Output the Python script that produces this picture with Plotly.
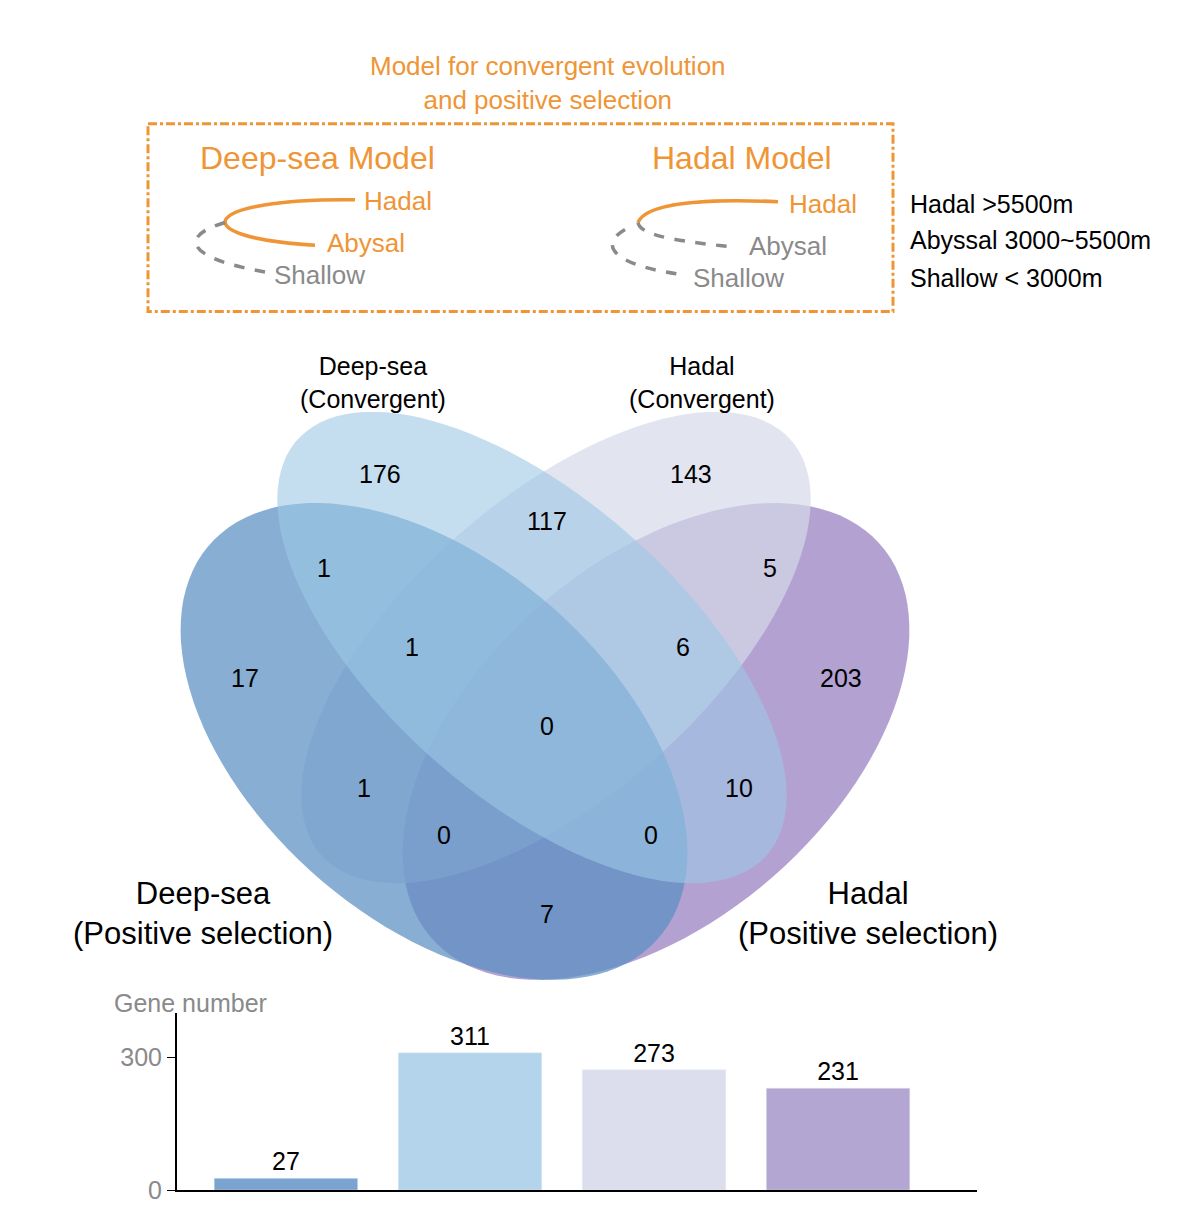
import numpy as np
import plotly.graph_objects as go

venn_sets = ["Deep-sea (Convergent)", "Hadal (Convergent)", "Deep-sea (Positive selection)", "Hadal (Positive selection)"]
venn_counts = [176, 143, 117, 1, 5, 17, 1, 6, 203, 0, 1, 10, 0, 0, 7]
venn_pos = [(380,479),(691,479),(547,527),(324,575),(770,575),(245,686),(412,654),(683,654),
            (841,686),(547,734),(364,797),(739,797),(444,845),(651,845),(547,925)]
bar_labels = ["Deep-sea (Positive selection)", "Deep-sea (Convergent)", "Hadal (Convergent)", "Hadal (Positive selection)"]
bar_values = [27, 311, 273, 231]
bar_colors = ["#7ba3cf", "#b3d4ea", "#dcdeee", "#b3a6d2"]

FONT = "Liberation Sans, Arial, sans-serif"
ORANGE = "#ef9535"
GRAY = "#8a8a8a"
OFF = 8  # page body margin

fig = go.Figure()

def ellipse(cx, cy, a, b, th):
    t = np.linspace(0, 2*np.pi, 120)
    th = np.radians(th)
    x = cx + a*np.cos(t)*np.cos(th) - b*np.sin(t)*np.sin(th)
    y = cy + a*np.cos(t)*np.sin(th) + b*np.sin(t)*np.cos(th)
    return "M " + " L ".join(f"{xi:.1f},{yi:.1f}" for xi, yi in zip(x, y)) + " Z"

ells = [((656,750,300,180,-42), "#a08ac6", 0.8),
        ((556,655,315,150,-42), "#d5d8ea", 0.7),
        ((434,750,300,180,42), "#5a8fc4", 0.72),
        ((532,655,315,150,42), "#9dc8e4", 0.6)]
shapes = []
for (p, c, o) in ells:
    shapes.append(dict(type="path", path=ellipse(*p), fillcolor=c, opacity=o,
                       line=dict(width=0), xref="x", yref="y", layer="below"))

shapes.append(dict(type="rect", x0=148, y0=125, x1=893, y1=315, xref="x", yref="y",
                   line=dict(color=ORANGE, width=3, dash="dashdot")))
shapes.append(dict(type="path", path="M 355,202 C 200,200 180,240 315,248", xref="x", yref="y",
                   line=dict(color=ORANGE, width=3.5)))
shapes.append(dict(type="path", path="M 225,225 C 175,240 190,262 265,275", xref="x", yref="y",
                   line=dict(color=GRAY, width=3.5, dash="dash")))
shapes.append(dict(type="path", path="M 778,204 C 690,200 645,208 638,225", xref="x", yref="y",
                   line=dict(color=ORANGE, width=3.5)))
shapes.append(dict(type="path", path="M 638,225 C 640,240 690,245 735,250", xref="x", yref="y",
                   line=dict(color=GRAY, width=3.5, dash="dash")))
shapes.append(dict(type="path", path="M 625,232 C 595,250 620,270 685,278", xref="x", yref="y",
                   line=dict(color=GRAY, width=3.5, dash="dash")))

ann = []
def T(x, y, s, size=25, color="black", xanchor="center"):
    ann.append(dict(x=x, y=y, text=s, showarrow=False, xref="x", yref="y", xanchor=xanchor,
                    yanchor="middle", font=dict(family=FONT, size=size, color=color)))

T(548, 84, "Model for convergent evolution<br>and positive selection", 26, ORANGE)
T(317, 160, "Deep-sea Model", 32, ORANGE)
T(742, 160, "Hadal Model", 32, ORANGE)
T(398, 203, "Hadal", 26, ORANGE)
T(366, 246, "Abysal", 26, ORANGE)
T(319, 278, "Shallow", 26, GRAY)
T(823, 206, "Hadal", 26, ORANGE)
T(788, 249, "Abysal", 26, GRAY)
T(738, 281, "Shallow", 26, GRAY)
T(908, 206, "Hadal >5500m", 25, "black", "left")
T(908, 243, "Abyssal 3000~5500m", 25, "black", "left")
T(908, 281, "Shallow < 3000m", 25, "black", "left")
T(373, 387, "Deep-sea<br>(Convergent)", 25)
T(702, 387, "Hadal<br>(Convergent)", 25)
T(203, 924, "Deep-sea<br>(Positive selection)", 31)
T(868, 924, "Hadal<br>(Positive selection)", 31)
for v, (x, y) in zip(venn_counts, venn_pos):
    T(x, y, str(v), 25)
T(190, 1015, "Gene number", 25, GRAY)

fig.add_trace(go.Scatter(x=[OFF, 1204+OFF], y=[OFF, 1211+OFF], mode="markers", marker=dict(opacity=0),
                         hoverinfo="skip", showlegend=False))

fig.add_trace(go.Bar(x=list(range(4)), y=bar_values, marker=dict(color=bar_colors), width=0.78,
                     text=[str(v) for v in bar_values], textposition="outside",
                     textfont=dict(family=FONT, size=25, color="black"), cliponaxis=False,
                     xaxis="x2", yaxis="y2", showlegend=False, hovertext=bar_labels))

fig.update_layout(
    width=1204, height=1211, margin=dict(l=0, r=0, t=0, b=0),
    paper_bgcolor="white", plot_bgcolor="rgba(0,0,0,0)",
    shapes=shapes, annotations=ann,
    xaxis=dict(range=[OFF, 1204+OFF], domain=[0, 1], visible=False),
    yaxis=dict(range=[1211+OFF, OFF], domain=[0, 1], visible=False),
    xaxis2=dict(domain=[(177-OFF)/1204, (977-OFF)/1204], range=[-0.592, 3.755], anchor="y2",
                showticklabels=False, ticks="", showline=True, linecolor="black", linewidth=2,
                showgrid=False, zeroline=False),
    yaxis2=dict(domain=[(1211-1204+OFF)/1211, (1211-1025+OFF)/1211], range=[0, 400.7], anchor="x2",
                tickvals=[0, 300], ticks="outside", ticklen=8, tickcolor="black",
                tickfont=dict(family=FONT, size=25, color=GRAY),
                showline=True, linecolor="black", linewidth=2, showgrid=False, zeroline=False),
)
fig.write_html("out.html")
